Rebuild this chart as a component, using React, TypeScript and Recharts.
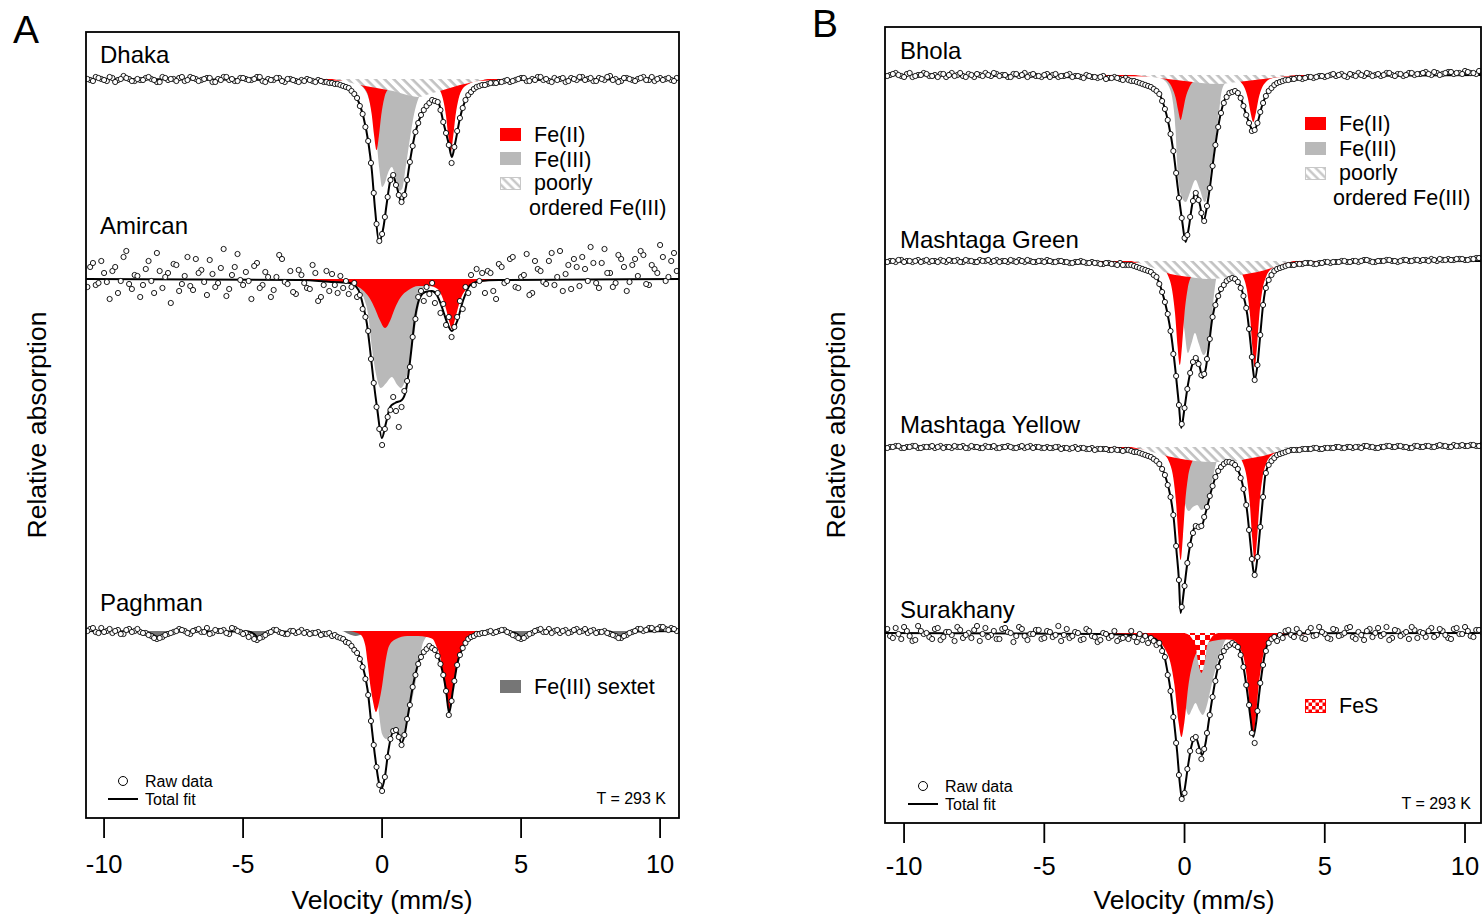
import React from 'react';
import { ComposedChart, Area, Line, Scatter, XAxis, YAxis } from 'recharts';

const FONT = '"Liberation Sans", Arial, Helvetica, sans-serif';
const RED = '#ff0000';
const FE3_GRAY = '#b9b9b9';
const SEXTET_GRAY = '#767676';
const HATCH_LINE = '#c2c2c2';

type Pt = [number, number];

const TICKS = [-10, -5, 0, 5, 10];

// channel velocities (mm/s) of the plotted raw data
const VEL_L = [-10.5,-10.3,-10.1,-9.9,-9.7,-9.5,-9.3,-9.1,-8.9,-8.7,-8.5,-8.3,-8.1,-7.9,-7.7,-7.5,-7.3,-7.1,-6.9,-6.7,-6.5,-6.3,-6.1,-5.9,-5.7,-5.5,-5.3,-5.1,-4.9,-4.7,-4.5,-4.3,-4.1,-3.9,-3.7,-3.5,-3.3,-3.1,-2.9,-2.7,-2.5,-2.3,-2.1];
const VEL_DIP = [-2,-1.9,-1.8,-1.7,-1.6,-1.5,-1.4,-1.3,-1.2,-1.1,-1,-0.9,-0.8,-0.7,-0.6,-0.5,-0.4,-0.3,-0.2,-0.1,0,0.1,0.2,0.3,0.4,0.5,0.6,0.7,0.8,0.9,1,1.1,1.2,1.3,1.4,1.5,1.6,1.7,1.8,1.9,2,2.1,2.2,2.3,2.4,2.5,2.6,2.7,2.8,2.9,3,3.1,3.2,3.3,3.4,3.5,3.6];
const VEL_R = [3.8,4,4.2,4.4,4.6,4.8,5,5.2,5.4,5.6,5.8,6,6.2,6.4,6.6,6.8,7,7.2,7.4,7.6,7.8,8,8.2,8.4,8.6,8.8,9,9.2,9.4,9.6,9.8,10,10.2,10.4,10.6];
const VEL_L2 = [-10.6,-10.4,-10.2,-10,-9.8,-9.6,-9.4,-9.2,-9,-8.8,-8.6,-8.4,-8.2,-8,-7.8,-7.6,-7.4,-7.2,-7,-6.8,-6.6,-6.4,-6.2,-6,-5.8,-5.6,-5.4,-5.2,-5,-4.8,-4.6,-4.4,-4.2,-4,-3.8,-3.6,-3.4,-3.2,-3,-2.8,-2.6,-2.4,-2.2];
const VEL_R2 = [3.7,3.9,4.1,4.3,4.5,4.7,4.9,5.1,5.3,5.5,5.7,5.9,6.1,6.3,6.5,6.7,6.9,7.1,7.3,7.5,7.7,7.9,8.1,8.3,8.5,8.7,8.9,9.1,9.3,9.5,9.7,9.9,10.1,10.3,10.5];
const VEL = [...VEL_L, ...VEL_DIP, ...VEL_R, ...VEL_L2, ...VEL_R2];

// ---------- Panel A ----------
// Dhaka (absorption, arb. units; 0 = baseline)
const DHAKA_RAW_L = [1,-2,0,2,-1,1,-3,0,2,1,-1,0,3,-2,1,0,-1,2,-2,0,1,-1,3,0,-2,1,2,-1,0,1,-2,2,0,1,-1,3,0,2,1,0,2,1,3];
const DHAKA_RAW_DIP = [3,4,4,5,5,6,7,8,9,12,15,19,27,35,48,62,84,114,145,162,155,138,118,101,96,106,116,123,116,101,83,67,53,44,36,31,27,24,21,22,23,31,43,54,66,84,68,52,39,29,21,16,13,10,8,7,6];
const DHAKA_RAW_R = [5,4,3,2,3,1,-1,2,0,-2,1,2,-1,0,3,-1,1,-2,0,2,-1,1,-3,0,2,-1,1,0,-2,1,2,-1,0,1,-1];
const DHAKA_RAW_L2 = [0,2,-1,1,-2,3,0,-1,2,0,1,-2,1,3,-1,0,2,-2,1,-1,2,0,-1,3,1,-2,0,2,-1,1,0,-2,3,1,-1,2,0,1,3,2,1,3,2];
const DHAKA_RAW_R2 = [6,4,4,3,1,2,0,-1,2,1,-2,0,3,1,-1,2,0,-2,1,-1,2,0,-2,1,3,-1,0,2,-1,1,-2,0,1,-1,2];
const DHAKA_TOTAL: Pt[] = [[-10.65,0],[-3,1],[-2,3],[-1.5,5],[-1.15,10],[-0.9,19],[-0.67,38],[-0.49,64],[-0.37,91],[-0.25,131],[-0.11,163],[0.05,148],[0.17,124],[0.29,102],[0.37,95],[0.53,108],[0.71,124],[0.86,108],[1.01,81],[1.19,54],[1.43,34],[1.67,24],[1.85,21],[2.03,24],[2.21,44],[2.39,64],[2.51,78],[2.63,64],[2.81,38],[3.05,18],[3.41,8],[4,4],[5,1],[10.68,0]];
const DHAKA_FE2: Pt[] = [[-10.65,0],[-3,1],[-1.2,2],[-0.85,5],[-0.62,10],[-0.48,19],[-0.37,36],[-0.285,57],[-0.2,71],[-0.115,57],[-0.03,36],[0.08,19],[0.22,10],[0.45,5],[0.8,3],[1.1,3],[1.47,3],[1.82,5],[2.05,10],[2.19,20],[2.3,37],[2.385,58],[2.47,73],[2.555,58],[2.64,37],[2.75,20],[2.89,10],[3.12,5],[3.47,2],[4.5,1],[10.68,0]];
const DHAKA_FE3: Pt[] = [[-1.5,0],[-1,3],[-0.7,8],[-0.5,18],[-0.35,35],[-0.2,62],[-0.1,90],[0,108],[0.1,104],[0.2,95],[0.35,88],[0.5,100],[0.62,112],[0.72,110],[0.85,88],[1,60],[1.15,35],[1.3,20],[1.5,10],[1.8,5],[2.3,2],[3,0]];
const DHAKA_POORLY: Pt[] = [[-1.8,0],[-1.4,2],[-0.8,6],[-0.2,9],[0.4,12],[0.9,16],[1.3,18],[1.7,15],[2.2,11],[2.8,6],[3.3,3],[3.8,0]];

// Amircan
const AMIRCAN_RAW_L = [-12,6,-18,3,-8,14,-22,5,-4,18,-10,2,-26,9,-6,-15,12,-3,7,-20,-9,16,-5,4,-30,10,-12,1,-7,20,-16,6,-2,11,-24,3,-8,15,-4,9,-14,22,6];
const AMIRCAN_RAW_DIP = [-8,12,-5,6,14,-3,9,2,15,8,4,18,16,30,38,52,80,104,128,150,166,150,138,131,118,132,148,128,112,102,88,58,40,18,12,22,8,15,4,24,14,34,25,46,38,58,48,38,22,30,8,14,-4,6,-10,2,-6];
const AMIRCAN_RAW_R = [-8,12,-15,4,-20,8,-2,-25,14,-10,3,-18,6,-28,-5,10,-12,-22,2,-16,9,-30,-6,4,-20,12,-14,-3,-24,6,-10,-34,2,-18,-8];
const AMIRCAN_RAW_L2 = [8,-16,4,-6,20,-12,2,-28,10,-3,6,-18,14,-8,-2,24,-14,5,-22,11,-6,3,-19,8,-11,17,-4,-25,6,2,-13,9,-7,18,-2,-20,5,13,-9,4,10,-6,18];
const AMIRCAN_RAW_R2 = [14,-6,20,-12,2,-22,9,-4,16,-18,-8,5,-26,-2,12,-14,-20,7,-10,-32,4,-16,-6,8,-24,-12,3,-20,-28,5,-14,-6,-22,-2,-26];
const AMIRCAN_TOTAL: Pt[] = [[-10.65,0],[-2.95,1],[-1.75,3],[-1.15,4],[-0.85,11],[-0.67,28],[-0.55,44],[-0.43,71],[-0.31,101],[-0.17,131],[-0.01,159],[0.14,144],[0.29,128],[0.47,124],[0.71,121],[0.86,111],[1.01,81],[1.19,38],[1.37,18],[1.55,13],[1.79,12],[1.97,16],[2.15,28],[2.33,43],[2.51,52],[2.69,43],[2.92,21],[3.17,6],[3.53,2],[4.2,1],[10.68,0]];
const AMIRCAN_FE2: Pt[] = [[-10.65,0],[-3,1],[-1.5,3],[-1,6],[-0.7,11],[-0.45,19],[-0.25,30],[-0.1,40],[0.11,49],[0.3,41],[0.45,30],[0.65,19],[0.95,11],[1.3,7],[1.7,7],[2,10],[2.15,17],[2.3,30],[2.42,43],[2.51,50],[2.6,43],[2.72,30],[2.87,17],[3.05,10],[3.3,5],[3.8,2],[5,1],[10.68,0]];
const AMIRCAN_FE3: Pt[] = [[-2,0],[-1.27,3],[-0.91,8],[-0.67,18],[-0.49,38],[-0.37,68],[-0.22,95],[-0.05,109],[0.15,104],[0.35,98],[0.55,106],[0.68,109],[0.85,100],[0.97,88],[1.07,71],[1.25,38],[1.43,14],[1.67,4],[2.2,1],[3,0]];

// Paghman
const PAGHMAN_RAW_L = [-2,1,-3,0,2,-1,3,-2,0,1,2,5,8,6,3,1,-2,0,3,-1,1,-3,2,0,-1,3,-2,1,2,5,9,6,2,-1,1,3,0,2,-1,1,2,1,3];
const PAGHMAN_RAW_DIP = [3,2,5,4,6,7,8,11,12,15,19,22,28,36,48,64,90,114,136,154,160,146,126,108,100,99,106,114,104,88,74,56,44,33,26,21,18,15,17,19,25,33,44,60,84,70,50,34,24,17,12,8,6,5,3,3,2];
const PAGHMAN_RAW_R = [1,2,0,-1,2,5,8,5,2,-1,1,-2,0,2,-1,1,-2,0,2,-1,1,0,3,5,7,4,1,-2,0,-3,-1,-4,-2,-3,0];
const PAGHMAN_RAW_L2 = [0,-3,2,1,-2,0,3,-1,1,-2,2,4,7,7,4,2,0,-1,2,0,-2,1,3,-1,0,2,-3,0,3,6,8,7,4,1,-1,2,3,0,1,2,3,2,4];
const PAGHMAN_RAW_R2 = [2,0,1,-1,1,4,7,7,3,0,-2,1,2,-1,0,2,-1,1,-2,0,2,1,2,4,7,5,2,0,-2,-1,-3,-2,-4,-1,-2];
const PAGHMAN_TOTAL: Pt[] = [[-10.65,0],[-8.6,0.5],[-8.3,3],[-8.05,6],[-7.8,3],[-7.5,0.5],[-4.8,0.5],[-4.6,3],[-4.45,7],[-4.25,3],[-4.05,0.5],[-2.5,1],[-2.1,2],[-1.6,5],[-1.28,9],[-1,17],[-0.73,32],[-0.52,59],[-0.39,92],[-0.25,126],[-0.11,152],[-0.03,158],[0.1,146],[0.23,119],[0.37,102],[0.51,99],[0.7,112],[0.8,105],[0.92,86],[1.13,52],[1.34,29],[1.54,19],[1.75,16],[1.96,22],[2.16,39],[2.3,59],[2.41,82],[2.55,59],[2.71,32],[2.92,16],[3.13,7],[3.54,2],[4,1],[4.65,1],[4.85,3],[5.05,7],[5.25,3],[5.45,0.5],[8.2,0.5],[8.35,3],[8.55,6],[8.75,3],[8.95,0.5],[10.68,0]];
const PAGHMAN_FE2: Pt[] = [[-10.65,0],[-1.2,0],[-0.9,2],[-0.76,4],[-0.6,15],[-0.52,32],[-0.42,55],[-0.33,70],[-0.22,81],[-0.1,70],[0,55],[0.1,35],[0.25,15],[0.5,8],[0.9,5],[1.3,5],[1.6,6],[1.82,8],[1.95,15],[2.09,26],[2.2,45],[2.3,65],[2.41,81],[2.52,65],[2.64,45],[2.78,26],[2.95,12],[3.13,6],[3.5,2],[4,0],[10.68,0]];
const PAGHMAN_FE3: Pt[] = [[-0.9,0],[-0.55,6],[-0.35,22],[-0.2,55],[-0.1,85],[0,103],[0.15,108],[0.35,102],[0.55,103],[0.72,107],[0.85,98],[1,80],[1.13,62],[1.25,44],[1.34,30],[1.47,12],[1.7,4],[2.2,1],[2.8,0]];
const PAGHMAN_SEXTET: Pt[] = [[-10.65,0],[-8.6,0],[-8.3,3],[-8.05,6],[-7.8,3],[-7.5,0],[-4.8,0],[-4.6,3],[-4.45,7],[-4.25,3],[-4.05,0],[-1.45,0],[-1.2,3],[-0.95,5],[-0.7,3],[-0.45,0],[1.3,0],[1.5,3],[1.7,5],[1.9,3],[2.1,0],[4.65,0],[4.85,3],[5.05,7],[5.25,3],[5.45,0],[8.2,0],[8.35,3],[8.55,6],[8.75,3],[8.95,0],[10.68,0]];

// ---------- Panel B ----------
// Bhola
const BHOLA_RAW_L = [0,-2,1,-1,2,0,-2,1,0,-1,2,-2,0,1,-1,2,0,-2,1,-1,0,2,-1,1,-2,0,1,2,-1,0,2,1,-1,1,2,0,2,3,1,3,2,4,3];
const BHOLA_RAW_DIP = [5,6,6,7,8,9,10,11,12,14,16,19,26,34,45,59,76,98,123,143,163,160,142,126,118,125,138,146,131,113,91,70,52,38,28,22,18,17,16,18,23,31,40,48,56,55,48,37,28,21,16,13,10,8,7,6,5];
const BHOLA_RAW_R = [4,3,4,2,3,1,2,0,1,-1,2,0,-2,1,-1,0,1,-2,0,-1,1,-2,0,-1,-3,0,-2,-1,-3,-1,-2,-4,-2,-1,-3];
const BHOLA_RAW_L2 = [1,-1,0,2,-2,1,0,-1,1,2,-1,0,1,-2,2,0,-1,1,0,-2,1,0,2,-1,0,2,-1,1,0,2,-1,1,0,2,1,3,1,2,2,4,3,3,5];
const BHOLA_RAW_R2 = [5,4,3,3,2,2,1,1,-1,0,1,-1,1,0,-2,1,-1,0,-2,1,-1,0,-2,-1,-2,-1,-3,0,-2,-3,-2,-1,-3,-2,-4];
const BHOLA_TOTAL: Pt[] = [[-10.68,0],[-3,2.7],[-1.81,6],[-1.21,11.7],[-0.92,18],[-0.74,30],[-0.56,50],[-0.38,80],[-0.24,113],[-0.08,147],[0.04,167],[0.15,153],[0.27,130],[0.39,117],[0.55,130],[0.67,147],[0.79,133],[0.9,113],[1.05,80],[1.23,47],[1.4,27],[1.64,17],[1.82,16],[2,23],[2.18,38],[2.36,52],[2.45,57],[2.6,48],[2.77,30],[3.01,15],[3.31,8],[3.79,4],[4.61,2],[5.5,1],[10.57,0]];
const BHOLA_FE2: Pt[] = [[-10.68,0],[-3,1],[-1.14,1.5],[-0.84,3],[-0.59,6.5],[-0.44,13],[-0.32,22.5],[-0.23,35],[-0.14,45],[-0.05,35],[0.04,22.5],[0.16,13],[0.31,6.5],[0.56,3],[0.9,2],[1.45,2],[1.75,3],[2,7],[2.15,13.5],[2.26,23.5],[2.35,37],[2.45,47],[2.55,37],[2.64,23.5],[2.75,13.5],[2.9,7],[3.15,3],[3.45,2],[4.5,1],[10.57,0]];
const BHOLA_FE3: Pt[] = [[-1.2,1],[-0.8,4],[-0.55,12],[-0.4,30],[-0.32,55],[-0.27,85],[-0.2,110],[-0.1,122],[0.04,127],[0.2,117],[0.39,105],[0.55,115],[0.72,127],[0.85,115],[0.93,97],[1.11,63],[1.23,37],[1.31,18],[1.45,8],[1.7,3],[2.2,1],[3,0]];
const BHOLA_POORLY: Pt[] = [[-1.8,0],[-1.2,2],[-0.6,4],[0,6],[0.6,8],[1.2,9],[1.6,8],[2.2,6],[2.8,4],[3.4,2],[4,0]];

// Mashtaga Green
const MG_RAW_L = [0,1,-1,0,1,-1,0,1,0,-1,1,0,-1,1,0,1,-1,0,1,-1,0,1,0,-1,1,0,1,0,-1,1,0,1,2,1,0,2,1,2,3,2,3,2,4];
const MG_RAW_DIP = [4,4,5,6,7,8,9,10,11,14,16,23,31,41,53,70,93,115,144,163,147,128,112,101,97,103,114,113,98,78,56,44,35,28,24,20,18,17,18,21,27,35,47,68,96,119,104,74,44,27,19,14,10,8,7,6,5];
const MG_RAW_R = [4,3,3,2,3,2,1,2,1,0,1,0,1,-1,0,1,0,-1,0,1,-1,0,-1,0,-1,-2,0,-1,-2,-1,-2,-1,-2,-3,-2];
const MG_RAW_L2 = [1,0,-1,1,0,0,1,-1,0,1,0,-1,0,1,-1,0,1,0,-1,0,1,0,-1,1,0,-1,1,0,1,0,1,0,1,2,1,1,2,2,3,2,3,4,4];
const MG_RAW_R2 = [4,4,3,2,2,3,2,1,1,1,0,1,0,0,-1,1,0,0,-1,0,0,-1,0,-1,-1,0,-1,-2,-1,-1,-2,-2,-1,-2,-3];
const MG_TOTAL: Pt[] = [[-10.68,0],[-3,3],[-1.81,4.7],[-1.21,10.7],[-0.98,17],[-0.8,30.7],[-0.62,50.7],[-0.46,77],[-0.32,110.7],[-0.2,144],[-0.12,167],[0,147],[0.12,124],[0.27,104],[0.42,96],[0.55,107],[0.64,117],[0.76,107],[0.87,84],[0.99,57],[1.17,37],[1.35,25.7],[1.52,19],[1.7,17.3],[1.88,20],[2.06,30.7],[2.24,54],[2.36,84],[2.45,110.7],[2.5,119],[2.6,104],[2.69,77],[2.8,44],[2.95,20.7],[3.19,10.7],[3.55,5.7],[4.14,3],[4.85,1.7],[6,0.5],[10.57,0]];
const MG_FE2: Pt[] = [[-10.68,0],[-3,1],[-1.6,2],[-1.17,3],[-0.82,6.6],[-0.59,14.6],[-0.45,28],[-0.34,52],[-0.25,85],[-0.17,104],[-0.09,85],[0,52],[0.11,28],[0.25,14.6],[0.48,6.6],[0.83,3.5],[1.15,3],[1.5,3.5],[1.85,6.8],[2.08,14.9],[2.22,28.6],[2.33,53],[2.42,86.7],[2.5,106],[2.58,86.7],[2.67,53],[2.78,28.6],[2.92,14.9],[3.15,6.8],[3.5,3],[4.5,1],[10.57,0]];
const MG_FE3: Pt[] = [[-1,2],[-0.6,6],[-0.35,15],[-0.15,35],[0,70],[0.12,92],[0.25,82],[0.37,72],[0.5,82],[0.68,94],[0.8,88],[0.93,67],[1.05,34],[1.15,15],[1.35,6],[1.7,2],[2.3,0]];
const MG_POORLY: Pt[] = [[-1.9,0],[-1.5,3],[-1,8],[-0.5,13],[0.2,16],[0.8,18],[1.4,17],[2,14],[2.6,11],[3.1,7],[3.5,3],[3.9,0]];

// Mashtaga Yellow
const MY_RAW_L = [0,-1,1,0,-1,1,0,0,1,-1,0,1,0,-1,1,0,1,-1,0,1,0,-1,1,0,1,-1,0,1,0,1,0,1,2,0,1,2,1,2,2,3,2,3,3];
const MY_RAW_DIP = [3,4,5,5,6,7,8,9,10,12,14,17,22,28,38,50,68,99,133,160,139,116,98,86,79,80,79,70,60,49,39,30,24,20,17,15,15,16,18,22,31,42,58,83,112,128,110,80,50,26,18,14,11,8,7,6,5];
const MY_RAW_R = [3,3,2,2,1,2,1,1,0,1,0,1,0,-1,0,1,0,-1,0,-1,0,1,-1,0,-1,0,-1,-1,0,-2,-1,-1,-2,-1,-2];
const MY_RAW_L2 = [1,0,-1,1,0,-1,1,0,-1,0,1,0,-1,0,1,-1,0,1,0,-1,1,0,0,1,-1,0,1,0,1,1,0,2,1,1,2,1,2,3,2,2,3,3,4];
const MY_RAW_R2 = [4,3,3,2,2,1,2,1,1,0,1,0,0,1,-1,0,1,0,-1,0,-1,0,1,-1,0,-1,0,-2,-1,0,-1,-2,-1,-2,-1];
const MY_TOTAL: Pt[] = [[-10.68,0],[-3,2.3],[-1.81,4.7],[-1.21,9.7],[-0.92,16.3],[-0.68,29.7],[-0.5,49.7],[-0.38,73],[-0.29,103],[-0.2,133],[-0.14,166],[-0.02,143],[0.1,116],[0.21,96],[0.36,80],[0.45,78],[0.57,81],[0.75,66],[0.93,46],[1.11,29.7],[1.29,19.7],[1.52,15.3],[1.7,15.7],[1.88,21.3],[2.06,36.3],[2.24,66.3],[2.36,99.7],[2.45,123],[2.5,128],[2.6,110],[2.69,83],[2.8,49.7],[2.89,26.3],[3.07,14.7],[3.31,8],[3.79,3.7],[4.61,1.3],[6,0.4],[10.57,0]];
const MY_FE2: Pt[] = [[-10.68,0],[-3,1],[-1.14,2.8],[-0.76,7],[-0.54,15.6],[-0.4,31],[-0.3,56.5],[-0.22,90],[-0.14,113],[-0.06,90],[0.02,56.5],[0.12,31],[0.26,15.6],[0.48,7],[0.86,3.5],[1.2,3.5],[1.5,3.5],[1.85,7.3],[2.08,16],[2.22,31],[2.33,57.5],[2.415,92],[2.5,115],[2.585,92],[2.67,57.5],[2.78,31],[2.92,16],[3.15,7.3],[3.5,3.2],[4.5,1],[10.57,0]];
const MY_FE3: Pt[] = [[-1,2],[-0.6,5],[-0.3,15],[-0.1,35],[0.05,60],[0.15,64],[0.3,60],[0.45,58],[0.6,63],[0.75,60],[0.88,48],[1,32],[1.12,17],[1.3,8],[1.6,3],[2.2,0]];
const MY_POORLY: Pt[] = [[-1.9,0],[-1.4,3],[-0.9,7],[-0.3,11],[0.4,14],[1,15],[1.6,15],[2.2,12],[2.8,9],[3.3,5],[3.8,2],[4.2,0]];

// Surakhany
const SK_RAW_L = [3,-5,6,-2,8,-7,1,4,-4,7,-1,2,-6,5,0,-3,8,-5,2,6,-4,-1,9,-6,3,1,-3,6,-2,4,-7,2,5,-1,7,-4,3,9,0,5,-2,6,4];
const SK_RAW_DIP = [6,-2,4,9,1,7,3,10,5,8,12,10,18,24,42,58,84,110,142,166,160,136,118,106,104,118,126,116,100,82,64,48,34,24,18,14,12,10,12,14,22,34,52,72,100,110,78,50,32,18,10,6,4,8,2,5,-2];
const SK_RAW_R = [2,-4,5,-1,3,-6,1,6,-3,2,-5,4,-1,7,-4,0,3,-6,5,-2,1,6,-3,-1,4,-5,2,-2,5,-4,1,-6,3,-3,-1];
const SK_RAW_L2 = [-4,5,1,-6,3,7,-2,0,6,-5,4,-1,8,-3,2,5,-7,1,4,-2,6,-5,0,3,-4,7,1,-3,5,-1,2,8,-4,3,0,6,-2,4,7,1,3,8,5];
const SK_RAW_R2 = [-3,4,0,6,-5,2,-1,5,-4,3,0,-6,6,2,-2,4,-5,1,7,-3,3,-1,-6,5,0,-2,4,-4,2,6,-5,1,-2,4,-3];
const SK_TOTAL: Pt[] = [[-10.68,0],[-3,1],[-1.81,2.3],[-1.21,4.3],[-0.92,8.7],[-0.74,20.3],[-0.62,37],[-0.5,57],[-0.38,87],[-0.26,120],[-0.17,150],[-0.08,167],[0,157],[0.12,133.7],[0.24,113.7],[0.39,103.7],[0.55,117],[0.63,122],[0.75,110],[0.87,87],[1.02,60],[1.17,37],[1.35,20.3],[1.58,12],[1.76,11.3],[1.94,15.3],[2.1,33.7],[2.24,60],[2.36,87],[2.45,104],[2.55,90],[2.65,63.7],[2.77,37],[2.89,17],[3.07,7],[3.43,2],[4.14,0.3],[10.57,0]];
const SK_FE2: Pt[] = [[-10.68,0],[-3,1],[-2.1,1.5],[-1.41,3],[-1.01,6],[-0.71,15.5],[-0.51,29],[-0.36,52],[-0.21,90],[-0.11,104],[-0.01,90],[0.14,52],[0.29,30],[0.49,17],[0.79,10],[1.2,7],[1.35,6.5],[1.7,6.7],[1.95,14],[2.13,27.5],[2.25,51],[2.35,81.6],[2.45,102],[2.55,81.6],[2.65,51],[2.77,27.5],[2.95,11],[3.2,5],[3.55,2.5],[4.5,1],[10.57,0]];
const SK_FE3: Pt[] = [[-1,2],[-0.6,5],[-0.3,15],[-0.1,40],[0.05,75],[0.15,82],[0.27,76],[0.39,70],[0.52,77],[0.65,82],[0.78,74],[0.9,60],[1.02,45],[1.15,32],[1.23,24],[1.35,14],[1.46,7],[1.65,3],[2.1,0]];
const SK_FES: Pt[] = [[0,0],[0.2,3],[0.32,8],[0.4,13],[0.47,27],[0.53,35],[0.6,40],[0.67,35],[0.73,27],[0.8,13],[0.88,8],[1,3],[1.2,0]];

type Layer = { pts: Pt[]; kind: 'fe2' | 'fe3' | 'poorly' | 'sextet' | 'fes' };
type Spectrum = { id: string; base: number; total: Pt[]; raw: number[]; layers: Layer[] };

// vertical stacking offsets (layout)
const SPECTRA_A: Spectrum[] = [
  { id: 'dhaka', base: 47, total: DHAKA_TOTAL, raw: [...DHAKA_RAW_L, ...DHAKA_RAW_DIP, ...DHAKA_RAW_R, ...DHAKA_RAW_L2, ...DHAKA_RAW_R2],
    layers: [{ pts: DHAKA_FE3, kind: 'fe3' }, { pts: DHAKA_FE2, kind: 'fe2' }, { pts: DHAKA_POORLY, kind: 'poorly' }] },
  { id: 'amircan', base: 247, total: AMIRCAN_TOTAL, raw: [...AMIRCAN_RAW_L, ...AMIRCAN_RAW_DIP, ...AMIRCAN_RAW_R, ...AMIRCAN_RAW_L2, ...AMIRCAN_RAW_R2],
    layers: [{ pts: AMIRCAN_FE3, kind: 'fe3' }, { pts: AMIRCAN_FE2, kind: 'fe2' }] },
  { id: 'paghman', base: 599, total: PAGHMAN_TOTAL, raw: [...PAGHMAN_RAW_L, ...PAGHMAN_RAW_DIP, ...PAGHMAN_RAW_R, ...PAGHMAN_RAW_L2, ...PAGHMAN_RAW_R2],
    layers: [{ pts: PAGHMAN_SEXTET, kind: 'sextet' }, { pts: PAGHMAN_FE3, kind: 'fe3' }, { pts: PAGHMAN_FE2, kind: 'fe2' }] },
];

const SPECTRA_B: Spectrum[] = [
  { id: 'bhola', base: 48, total: BHOLA_TOTAL, raw: [...BHOLA_RAW_L, ...BHOLA_RAW_DIP, ...BHOLA_RAW_R, ...BHOLA_RAW_L2, ...BHOLA_RAW_R2],
    layers: [{ pts: BHOLA_FE3, kind: 'fe3' }, { pts: BHOLA_FE2, kind: 'fe2' }, { pts: BHOLA_POORLY, kind: 'poorly' }] },
  { id: 'mg', base: 234, total: MG_TOTAL, raw: [...MG_RAW_L, ...MG_RAW_DIP, ...MG_RAW_R, ...MG_RAW_L2, ...MG_RAW_R2],
    layers: [{ pts: MG_FE3, kind: 'fe3' }, { pts: MG_FE2, kind: 'fe2' }, { pts: MG_POORLY, kind: 'poorly' }] },
  { id: 'my', base: 420, total: MY_TOTAL, raw: [...MY_RAW_L, ...MY_RAW_DIP, ...MY_RAW_R, ...MY_RAW_L2, ...MY_RAW_R2],
    layers: [{ pts: MY_FE3, kind: 'fe3' }, { pts: MY_FE2, kind: 'fe2' }, { pts: MY_POORLY, kind: 'poorly' }] },
  { id: 'sk', base: 606, total: SK_TOTAL, raw: [...SK_RAW_L, ...SK_RAW_DIP, ...SK_RAW_R, ...SK_RAW_L2, ...SK_RAW_R2],
    layers: [{ pts: SK_FE3, kind: 'fe3' }, { pts: SK_FE2, kind: 'fe2' }, { pts: SK_FES, kind: 'fes' }] },
];

const fillFor = (kind: Layer['kind'], p: string) => {
  switch (kind) {
    case 'fe2': return RED;
    case 'fe3': return FE3_GRAY;
    case 'sextet': return SEXTET_GRAY;
    case 'poorly': return `url(#hatch${p})`;
    case 'fes': return `url(#check${p})`;
  }
};

const RawDot = (props: any) => {
  const { cx, cy } = props;
  if (cx == null || cy == null) return null;
  return <circle cx={cx} cy={cy} r={2.6} fill="#fff" stroke="#000" strokeWidth={0.9} />;
};

type PanelProps = {
  p: string; width: number; height: number;
  margin: { top: number; right: number; bottom: number; left: number };
  xDomain: [number, number]; yMax: number; tickMargin: number; spectra: Spectrum[];
};

const Panel = ({ p, width, height, margin, xDomain, yMax, tickMargin, spectra }: PanelProps) => {
  const areas: React.ReactNode[] = [];
  spectra.forEach((s) => {
    s.layers.forEach((l, i) => {
      areas.push(
        <Area key={`${s.id}-a${i}`} data={l.pts.map(([v, d]) => ({ v, y: [s.base, s.base + d] }))}
          dataKey="y" type="monotone" stroke="none" fill={fillFor(l.kind, p)} fillOpacity={1}
          isAnimationActive={false} dot={false} activeDot={false} />
      );
    });
  });
  const lines = spectra.map((s) => (
    <Line key={`${s.id}-l`} data={s.total.map(([v, d]) => ({ v, y: s.base + d }))} dataKey="y"
      type="monotone" stroke="#000" strokeWidth={2} dot={false} activeDot={false} isAnimationActive={false} />
  ));
  const scatters = spectra.map((s) => (
    <Scatter key={`${s.id}-s`} data={VEL.map((v, i) => ({ v, y: s.base + s.raw[i] })).filter((q) => Number.isFinite(q.y))}
      dataKey="y" shape={RawDot} isAnimationActive={false} />
  ));
  return (
    <ComposedChart width={width} height={height} margin={margin}>
      <defs>
        <pattern id={`hatch${p}`} width={6.5} height={6.5} patternUnits="userSpaceOnUse" patternTransform="rotate(-45)">
          <rect width={6.5} height={6.5} fill="#fff" />
          <line x1={1.5} y1={0} x2={1.5} y2={6.5} stroke={HATCH_LINE} strokeWidth={2.6} />
        </pattern>
        <pattern id={`check${p}`} width={10} height={10} patternUnits="userSpaceOnUse">
          <rect width={10} height={10} fill="#fff" />
          <rect width={5} height={5} fill={RED} />
          <rect x={5} y={5} width={5} height={5} fill={RED} />
        </pattern>
      </defs>
      <XAxis type="number" dataKey="v" domain={xDomain} ticks={TICKS} allowDataOverflow interval={0}
        axisLine={false} tickSize={20} tickMargin={tickMargin} height={60}
        tickLine={{ stroke: '#000', strokeWidth: 1.8 }}
        tick={{ fill: '#000', fontSize: 25.5, fontFamily: FONT }} />
      <YAxis type="number" hide domain={[0, yMax]} reversed allowDataOverflow />
      {areas}
      {lines}
      {scatters}
    </ComposedChart>
  );
};

const T = (props: any) => <text fill="#000" fontFamily={FONT} {...props} />;

const Overlay = () => (
  <svg width={1484} height={917} style={{ position: 'absolute', left: 0, top: 0, pointerEvents: 'none' }}>
    <defs>
      <pattern id="hatchL" width={6} height={6} patternUnits="userSpaceOnUse" patternTransform="rotate(-45)">
        <rect width={6} height={6} fill="#fff" />
        <line x1={1.5} y1={0} x2={1.5} y2={6} stroke={HATCH_LINE} strokeWidth={2.2} />
      </pattern>
      <pattern id="checkL" width={7} height={7} patternUnits="userSpaceOnUse" x={1305} y={699}>
        <rect width={7} height={7} fill="#fff" />
        <rect width={3.5} height={3.5} fill={RED} />
        <rect x={3.5} y={3.5} width={3.5} height={3.5} fill={RED} />
      </pattern>
    </defs>
    {/* frames */}
    <rect x={86} y={32} width={593} height={786} fill="none" stroke="#000" strokeWidth={1.8} />
    <rect x={885} y={27} width={596} height={796} fill="none" stroke="#000" strokeWidth={1.8} />

    {/* panel letters */}
    <T x={13} y={43} fontSize={39}>A</T>
    <T x={812} y={37} fontSize={39}>B</T>

    {/* axis titles */}
    <T transform="translate(46,425) rotate(-90)" textAnchor="middle" fontSize={26.5}>Relative absorption</T>
    <T transform="translate(845,425) rotate(-90)" textAnchor="middle" fontSize={26.5}>Relative absorption</T>
    <T x={382} y={909} textAnchor="middle" fontSize={26.5}>Velocity (mm/s)</T>
    <T x={1184} y={909} textAnchor="middle" fontSize={26.5}>Velocity (mm/s)</T>

    {/* sample names */}
    <T x={100} y={63} fontSize={24}>Dhaka</T>
    <T x={100} y={234} fontSize={24}>Amircan</T>
    <T x={100} y={611} fontSize={24}>Paghman</T>
    <T x={900} y={59} fontSize={24}>Bhola</T>
    <T x={900} y={248} fontSize={24}>Mashtaga Green</T>
    <T x={900} y={433} fontSize={24}>Mashtaga Yellow</T>
    <T x={900} y={618} fontSize={24}>Surakhany</T>

    {/* legend A */}
    <rect x={500} y={128} width={21} height={13} fill={RED} />
    <T x={534} y={142} fontSize={21.5}>Fe(II)</T>
    <rect x={500} y={152} width={21} height={13} fill={FE3_GRAY} />
    <T x={534} y={167} fontSize={21.5}>Fe(III)</T>
    <rect x={500.5} y={177.5} width={20} height={12} fill="url(#hatchL)" stroke="#c8c8c8" strokeWidth={1} />
    <T x={534} y={190} fontSize={21.5}>poorly</T>
    <T x={529} y={215} fontSize={21.5}>ordered Fe(III)</T>
    <rect x={500} y={680} width={21} height={13} fill={SEXTET_GRAY} />
    <T x={534} y={694} fontSize={21.5}>Fe(III) sextet</T>

    {/* legend B */}
    <rect x={1305} y={117} width={21} height={13} fill={RED} />
    <T x={1339} y={131} fontSize={21.5}>Fe(II)</T>
    <rect x={1305} y={142} width={21} height={13} fill={FE3_GRAY} />
    <T x={1339} y={156} fontSize={21.5}>Fe(III)</T>
    <rect x={1305.5} y={167.5} width={20} height={12} fill="url(#hatchL)" stroke="#c8c8c8" strokeWidth={1} />
    <T x={1339} y={180} fontSize={21.5}>poorly</T>
    <T x={1333} y={205} fontSize={21.5}>ordered Fe(III)</T>
    <rect x={1305.5} y={699.5} width={20} height={13} fill="url(#checkL)" stroke={RED} strokeWidth={1} />
    <T x={1339} y={713} fontSize={21.5}>FeS</T>

    {/* raw data / fit legends */}
    <circle cx={123} cy={781} r={4.5} fill="#fff" stroke="#000" strokeWidth={1} />
    <T x={145} y={787} fontSize={16}>Raw data</T>
    <line x1={108} x2={138} y1={799} y2={799} stroke="#000" strokeWidth={2} />
    <T x={145} y={805} fontSize={16}>Total fit</T>
    <T x={666} y={804} textAnchor="end" fontSize={16}>T = 293 K</T>

    <circle cx={923} cy={786} r={4.5} fill="#fff" stroke="#000" strokeWidth={1} />
    <T x={945} y={792} fontSize={16}>Raw data</T>
    <line x1={908} x2={938} y1={804} y2={804} stroke="#000" strokeWidth={2} />
    <T x={945} y={810} fontSize={16}>Total fit</T>
    <T x={1471} y={809} textAnchor="end" fontSize={16}>T = 293 K</T>
  </svg>
);

export default function App() {
  return (
    <div style={{ position: 'absolute', left: 0, top: 0, width: 1484, height: 917, background: '#fff', overflow: 'hidden' }}>
      <div style={{ position: 'absolute', left: 0, top: 0 }}>
        <Panel p="A" width={700} height={917} margin={{ top: 32, right: 21, bottom: 39, left: 86 }}
          xDomain={[-10.65, 10.68]} yMax={786} tickMargin={17} spectra={SPECTRA_A} />
      </div>
      <div style={{ position: 'absolute', left: 800, top: 0 }}>
        <Panel p="B" width={684} height={917} margin={{ top: 27, right: 3, bottom: 34, left: 85 }}
          xDomain={[-10.68, 10.57]} yMax={796} tickMargin={14} spectra={SPECTRA_B} />
      </div>
      <Overlay />
    </div>
  );
}
